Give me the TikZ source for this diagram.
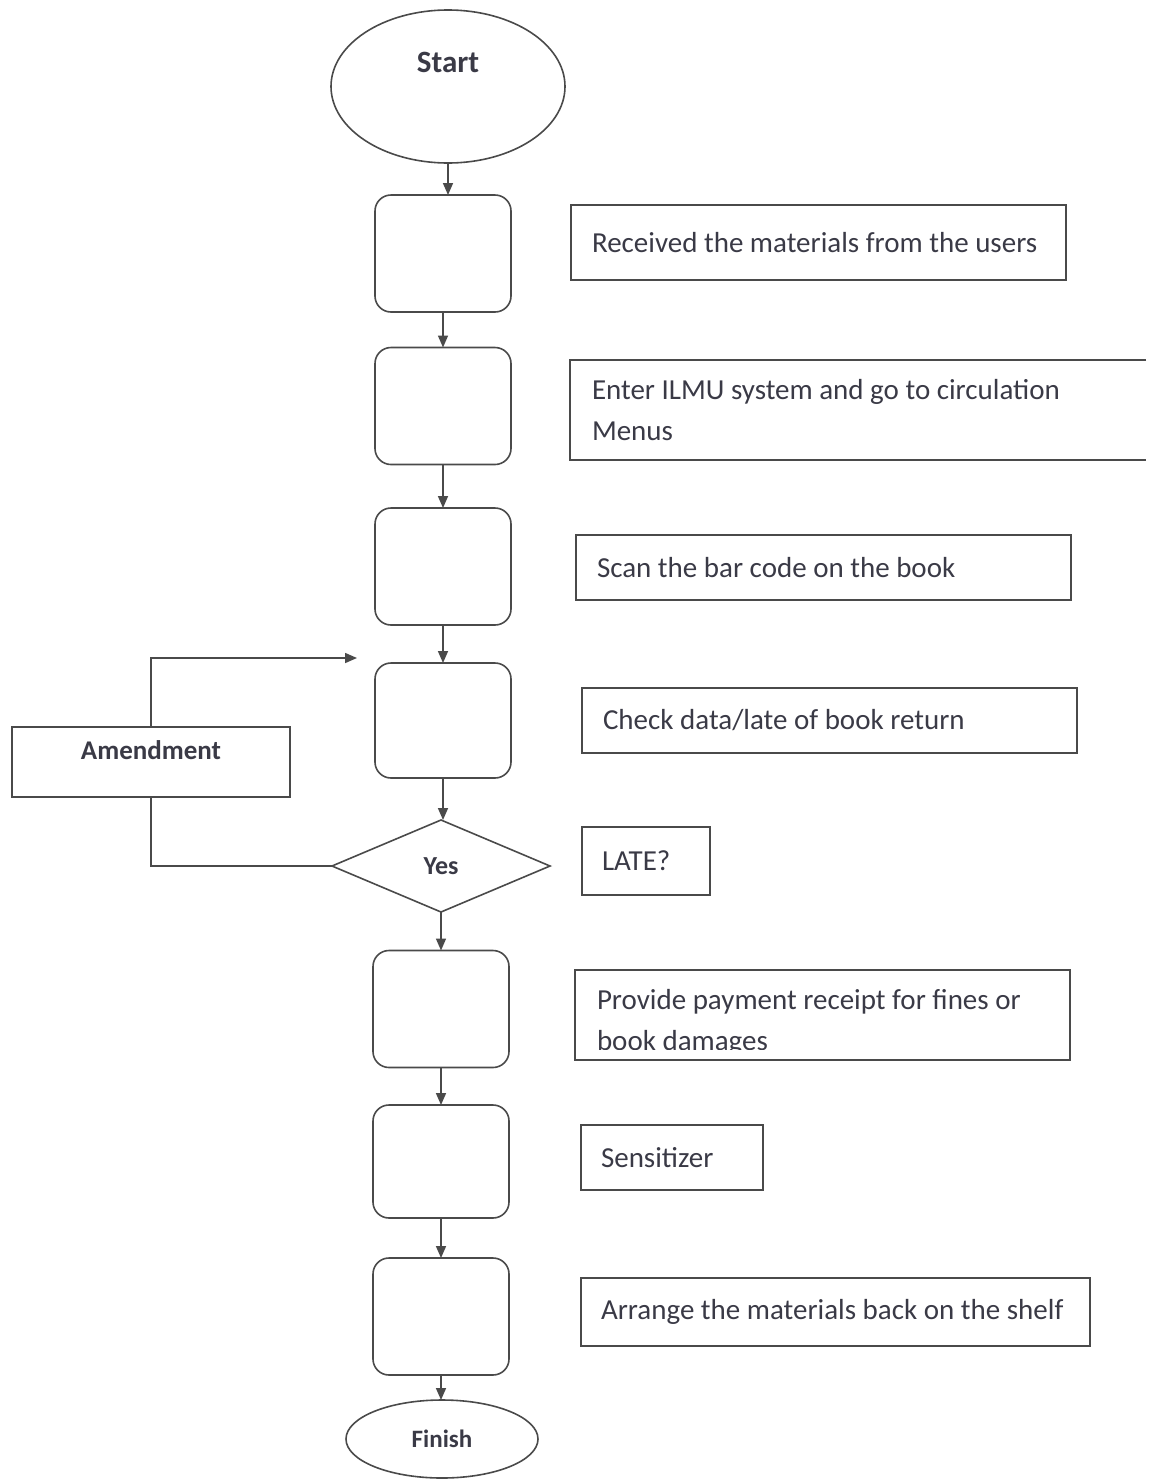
\documentclass[tikz,border=0pt]{standalone}
\usepackage{fontspec}
\setmainfont{Carlito}
\usetikzlibrary{shapes.geometric,arrows.meta,calc}
\definecolor{linegray}{HTML}{4A4A4A}
\definecolor{inkgray}{HTML}{3A3A46}
\begin{document}
\begin{tikzpicture}[x=1pt,y=-1pt,
  every node/.style={inner sep=0pt, outer sep=0pt},
  line/.style={draw=linegray, line width=1.6pt},
  flow/.style={line, -{Triangle[length=12pt,width=10pt]}},
  stepbox/.style={line, rounded corners=16pt, minimum width=136pt, minimum height=117pt},
  notetext/.style={align=flush left, font=\fontsize{29}{41}\selectfont, text=inkgray},
  note/.style={notetext, line, inner xsep=21pt},
  boldtext/.style={text=inkgray, font=\bfseries\fontsize{#1}{#1}\selectfont},
]
\useasboundingbox (0,0) rectangle (1153,1481);

% terminals
\node[line, ellipse, minimum width=234pt, minimum height=153pt] (start) at (448,86.5) {};
\node[boldtext=31, anchor=base] at (448,72) {Start};
\node[line, ellipse, minimum width=192pt, minimum height=78pt] (finish) at (442,1439) {};
\node[boldtext=25] at (finish.center) {Finish};

% process steps
\node[stepbox] (b1) at (443,253.5) {};
\node[stepbox] (b2) at (443,406) {};
\node[stepbox] (b3) at (443,566.5) {};
\node[stepbox, minimum height=115pt] (b4) at (443,720.5) {};
\node[line, diamond, minimum width=218pt, minimum height=92pt] (yes) at (441,866) {};
\node[boldtext=26] at (yes.center) {Yes};
\node[stepbox] (b5) at (441,1009) {};
\node[stepbox, minimum height=113pt] (b6) at (441,1161.5) {};
\node[stepbox] (b7) at (441,1316.5) {};

% amendment loop
\node[line, minimum width=278pt, minimum height=70pt] (amend) at (151,762) {};
\node[boldtext=27] at ($(amend.center)+(0,-12)$) {Amendment};
\coordinate (loopend) at (357,658);

% flow arrows
\draw[flow] (start.south) -- (start.south |- b1.north);
\draw[flow] (b1.south) -- (b2.north);
\draw[flow] (b2.south) -- (b3.north);
\draw[flow] (b3.south) -- (b4.north);
\draw[flow] (b4.south) -- (b4.south |- yes.north);
\draw[flow] (yes.south) -- (b5.north);
\draw[flow] (b5.south) -- (b6.north);
\draw[flow] (b6.south) -- (b7.north);
\draw[flow] (b7.south) -- (b7.south |- finish.north);
\draw[line] (yes.west) -| (amend.south);
\draw[flow] (amend.north) |- (loopend);

% descriptions
\node[note, text width=453pt, minimum height=75pt] (n1) at (818.5,242.5)
  {Received the materials from the users};
\node[notetext, inner xsep=22pt, text width=532pt, minimum height=100pt] (n2) at (858,410)
  {Enter ILMU system and go to circulation\\Menus};
\draw[line] (n2.north east) -- (n2.north west) -- (n2.south west) -- (n2.south east);
\node[note, text width=453pt, minimum height=65pt] (n3) at (823.5,567.5)
  {Scan the bar code on the book};
\node[note, text width=453pt, minimum height=65pt] (n4) at (829.5,720.5)
  {Check data/late of book return};
\node[note, inner xsep=20pt, text width=88pt, minimum height=68pt] (n5) at (646,861)
  {LATE?};
\node[line, minimum width=495pt, minimum height=90pt] (n6) at (822.5,1015) {};
\begin{scope}
  \clip (n6.north west) rectangle ($(n6.south east)+(0,-11)$);
  \node[notetext, anchor=base west] at (597,1050)
    {Provide payment receipt for fines or\\book damages};
\end{scope}
\node[note, inner xsep=20pt, text width=142pt, minimum height=65pt] (n7) at (672,1157.5)
  {Sensitizer};
\node[note, inner xsep=20pt, text width=469pt, minimum height=68pt] (n8) at (835.5,1312)
  {Arrange the materials back on the shelf};
\end{tikzpicture}
\end{document}
